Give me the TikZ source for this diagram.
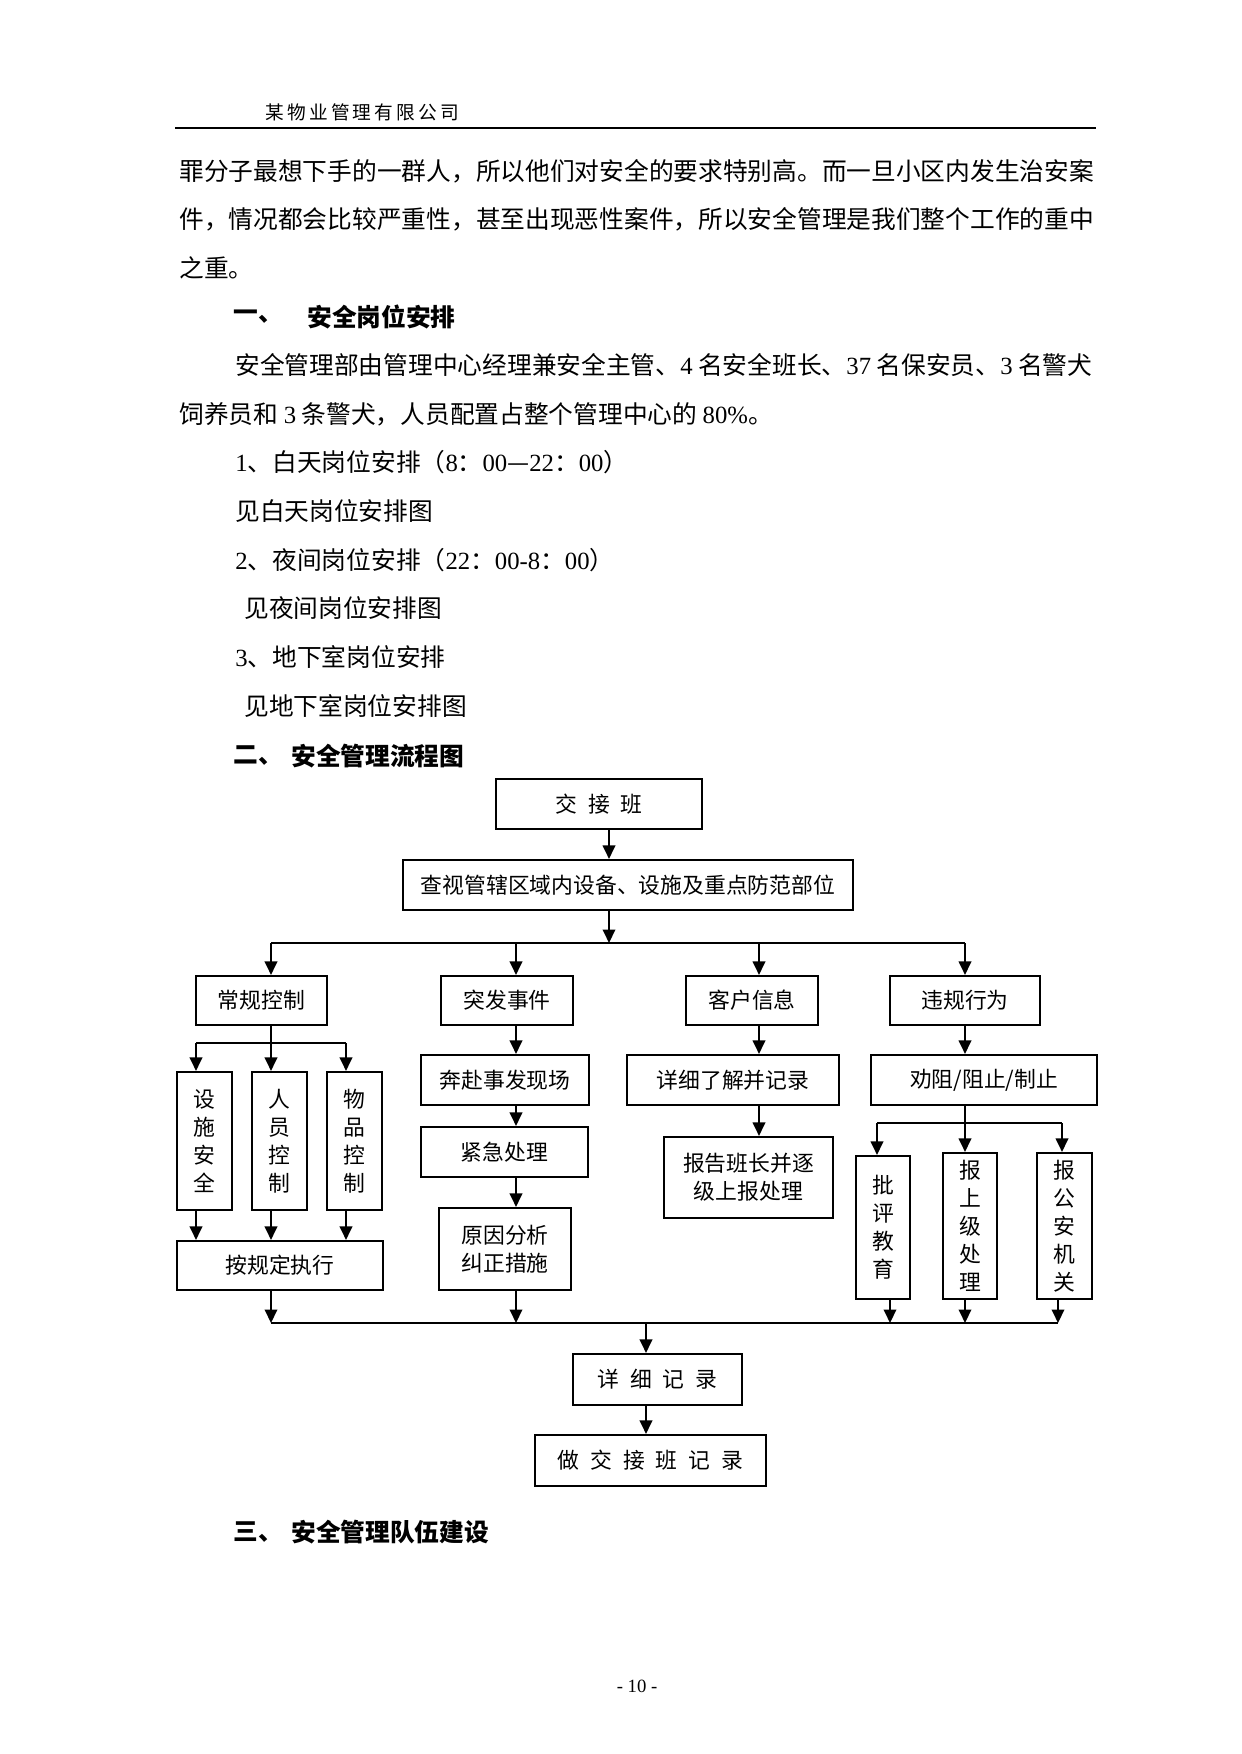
\documentclass[tikz,border=0pt]{standalone}
\usepackage{fontspec}
\setmainfont{Liberation Serif}
\newfontfamily\cjk{Noto Sans CJK SC}
\newfontfamily\cjkhd{Noto Sans CJK SC}[LetterSpace=17]
\usetikzlibrary{arrows.meta}
\newcommand\pxu{0.16922mm}
\newcommand\ltn[1]{{\rmfamily #1}}
\tikzset{sz/.style 2 args={minimum width=#1*\pxu, minimum height=#2*\pxu}}
\begin{document}
\begin{tikzpicture}[x=\pxu, y=-\pxu]
        \tikzstyle{every node}=[inner sep=0pt, font=\cjk\fontsize{11.9pt}{14pt}\selectfont]
        \tikzstyle{txt}=[anchor=west]
        \tikzstyle{ttl}=[anchor=west, font=\cjk\bfseries\fontsize{11.9pt}{14pt}\selectfont]
        \tikzstyle{box}=[draw, line width=1pt, align=center, font=\cjk\fontsize{10.5pt}{13.5pt}\selectfont]
        \tikzstyle{arr}=[line width=1pt, -{Triangle[width=6pt,length=6.5pt]}]
        \tikzstyle{bus}=[line width=1.3pt]
        \useasboundingbox (0,0) rectangle (1241,1754);
        \node[txt, font=\cjkhd\fontsize{9pt}{10pt}\selectfont] (hdr) at (265,112) {某物业管理有限公司};
        \draw[line width=1.2pt] (175,128) -- (1096,128);
        \node[txt] (p1) at (179,171) {罪分子最想下手的一群人，所以他们对安全的要求特别高。而一旦小区内发生治安案};
        \node[txt] (p2) at (179,219.6) {件，情况都会比较严重性，甚至出现恶性案件，所以安全管理是我们整个工作的重中};
        \node[txt] (p3) at (179,268.2) {之重。};
        \node[ttl] (h1a) at (233,316.8) {一、};
        \node[ttl] (h1b) at (307,316.8) {安全岗位安排};
        \node[txt] (p4) at (235,365.4) {安全管理部由管理中心经理兼安全主管、\ltn{4} 名安全班长、\ltn{37} 名保安员、\ltn{3} 名警犬};
        \node[txt] (p5) at (179,414) {饲养员和 \ltn{3} 条警犬，人员配置占整个管理中心的 \ltn{80\%}。};
        \node[txt] (p6) at (235,462.6) {\ltn{1}、白天岗位安排（\ltn{8}：\ltn{00}—\ltn{22}：\ltn{00}）};
        \node[txt] (p7) at (235,511.2) {见白天岗位安排图};
        \node[txt] (p8) at (235,559.8) {\ltn{2}、夜间岗位安排（\ltn{22}：\ltn{00-8}：\ltn{00}）};
        \node[txt] (p9) at (244,608.4) {见夜间岗位安排图};
        \node[txt] (p10) at (235,657) {\ltn{3}、地下室岗位安排};
        \node[txt] (p11) at (244,705.6) {见地下室岗位安排图};
        \node[ttl] (h2a) at (233,756) {二、};
        \node[ttl] (h2b) at (291,756) {安全管理流程图};
        \node[box, sz={206}{50}] (shift) at (599,804) {交\enspace 接\enspace 班};
        \node[box, sz={450}{50}] (view) at (628,885) {查视管辖区域内设备、设施及重点防范部位};
        \node[box, sz={131}{49}] (rule) at (261.5,1000.5) {常规控制};
        \node[box, sz={132}{49}] (event) at (507,1000.5) {突发事件};
        \node[box, sz={132}{49}] (client) at (752,1000.5) {客户信息};
        \node[box, sz={150}{49}] (breach) at (965,1000.5) {违规行为};
        \node[box, sz={55}{138}] (fac) at (204.5,1141) {设\\施\\安\\全};
        \node[box, sz={55}{138}] (staff) at (279.5,1141) {人\\员\\控\\制};
        \node[box, sz={55}{138}] (goods) at (354.5,1141) {物\\品\\控\\制};
        \node[box, sz={206}{49}] (exec) at (280,1265.5) {按规定执行};
        \node[box, sz={168}{50}] (rush) at (505,1080) {奔赴事发现场};
        \node[box, sz={167}{50}] (urgent) at (504.5,1152) {紧急处理};
        \node[box, sz={132}{82}] (cause) at (505,1249) {原因分析\\纠正措施};
        \node[box, sz={212}{50}] (detail) at (733,1080) {详细了解并记录};
        \node[box, sz={169}{81}] (report) at (748.5,1177.5) {报告班长并逐\\级上报处理};
        \node[box, sz={226}{50}] (stop) at (984,1080) {劝阻/阻止/制止};
        \node[box, sz={54}{143}] (edu) at (883,1227.5) {批\\评\\教\\育};
        \node[box, sz={54}{146}] (upper) at (970,1226) {报\\上\\级\\处\\理};
        \node[box, sz={55}{146}] (police) at (1064.5,1226) {报\\公\\安\\机\\关};
        \node[box, sz={169}{51}] (rec) at (657.5,1379.5) {详\enspace 细\enspace 记\enspace 录};
        \node[box, sz={231}{51}] (handover) at (650.5,1460.5) {做\enspace 交\enspace 接\enspace 班\enspace 记\enspace 录};
        \coordinate (t0) at (609,943);
        \coordinate (t1) at (271,943);
        \coordinate (t2) at (516,943);
        \coordinate (t3) at (759,943);
        \coordinate (t4) at (965,943);
        \coordinate (l0) at (271,1043);
        \coordinate (l1) at (196,1043);
        \coordinate (l3) at (346,1043);
        \coordinate (r0) at (965,1123);
        \coordinate (r1) at (877,1123);
        \coordinate (r3) at (1062,1123);
        \coordinate (d0) at (646,1323);
        \coordinate (d1) at (271,1323);
        \coordinate (d2) at (516,1323);
        \coordinate (d3) at (890,1323);
        \coordinate (d4) at (965,1323);
        \coordinate (d5) at (1058,1323);
        \draw[arr] (shift.south -| t0) -- (view.north -| t0);
        \draw[arr] (view.south -| t0) -- (t0);
        \draw[bus] (t1) -- (t4);
        \foreach \c/\n in {t1/rule, t2/event, t3/client, t4/breach}
            \draw[arr] (\c) -- (\n.north -| \c);
        \draw[arr, -] (rule.south -| l0) -- (l0);
        \draw[bus] (l1) -- (l3);
        \foreach \c/\n in {l1/fac, l0/staff, l3/goods} {
            \draw[arr] (\c) -- (\n.north -| \c);
            \draw[arr] (\n.south -| \c) -- (exec.north -| \c);
        }
        \draw[arr] (event.south -| t2) -- (rush.north -| t2);
        \draw[arr] (rush.south -| t2) -- (urgent.north -| t2);
        \draw[arr] (urgent.south -| t2) -- (cause.north -| t2);
        \draw[arr] (client.south -| t3) -- (detail.north -| t3);
        \draw[arr] (detail.south -| t3) -- (report.north -| t3);
        \draw[arr] (breach.south -| t4) -- (stop.north -| t4);
        \draw[arr, -] (stop.south -| r0) -- (r0);
        \draw[bus] (r1) -- (r3);
        \foreach \c/\n in {r1/edu, r0/upper, r3/police}
            \draw[arr] (\c) -- (\n.north -| \c);
        \draw[line width=0.6pt] (d1) -- (d5);
        \draw[arr] (exec.south -| d1) -- (d1);
        \draw[arr] (cause.south -| d2) -- (d2);
        \draw[arr] (edu.south -| d3) -- (d3);
        \draw[arr] (upper.south -| d4) -- (d4);
        \draw[arr] (police.south -| d5) -- (d5);
        \draw[arr] (d0) -- (rec.north -| d0);
        \draw[arr] (rec.south -| d0) -- (handover.north -| d0);
        \node[ttl] (h3a) at (233,1532) {三、};
        \node[ttl] (h3b) at (291,1532) {安全管理队伍建设};
        \node[font=\rmfamily\fontsize{9pt}{10pt}\selectfont] (pgno) at (637,1686) {- 10 -};
    \end{tikzpicture}
\end{document}
